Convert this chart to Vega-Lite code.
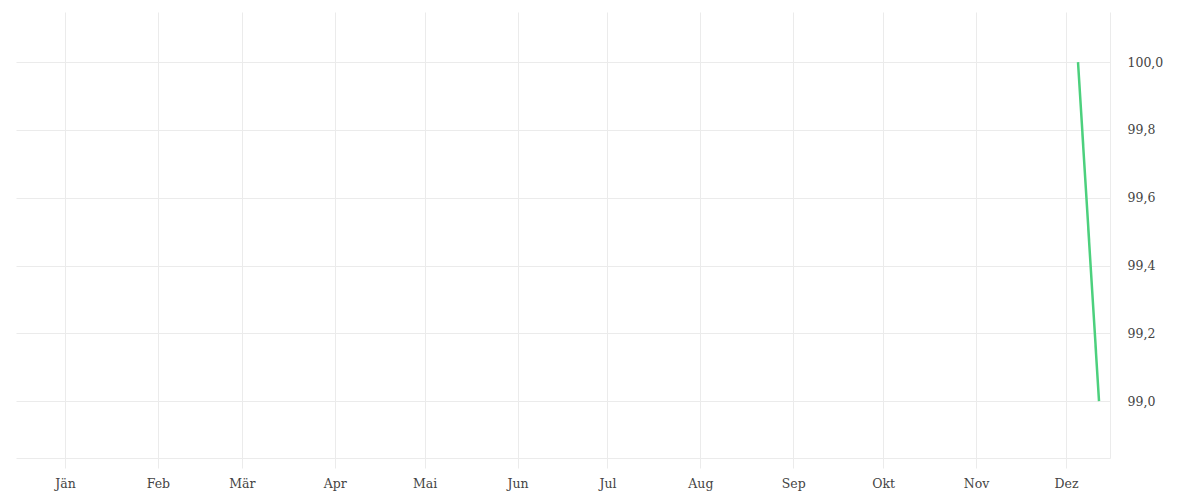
{
  "$schema": "https://vega.github.io/schema/vega-lite/v6.json",
  "width": 1094,
  "height": 446,
  "autosize": {"type": "none"},
  "padding": {"left": 16, "top": 12, "right": 90, "bottom": 42},
  "background": "white",
  "config": {
    "view": {"stroke": null},
    "font": "DejaVu Serif"
  },
  "data": {
    "values": [
      {"datum": "2023-12-05T00:00:00Z", "wert": 100.0},
      {"datum": "2023-12-12T00:00:00Z", "wert": 99.0}
    ]
  },
  "mark": {"type": "line", "color": "#4cd07d", "strokeWidth": 2.5},
  "encoding": {
    "x": {
      "field": "datum",
      "type": "temporal",
      "scale": {
        "type": "utc",
        "domain": [
          {"year": 2022, "month": 12, "date": 15, "hours": 16, "utc": true},
          {"year": 2023, "month": 12, "date": 15, "hours": 16, "utc": true}
        ],
        "nice": false
      },
      "axis": {
        "title": null,
        "values": [
          {"year": 2023, "month": 1, "date": 1, "utc": true},
          {"year": 2023, "month": 2, "date": 1, "utc": true},
          {"year": 2023, "month": 3, "date": 1, "utc": true},
          {"year": 2023, "month": 4, "date": 1, "utc": true},
          {"year": 2023, "month": 5, "date": 1, "utc": true},
          {"year": 2023, "month": 6, "date": 1, "utc": true},
          {"year": 2023, "month": 7, "date": 1, "utc": true},
          {"year": 2023, "month": 8, "date": 1, "utc": true},
          {"year": 2023, "month": 9, "date": 1, "utc": true},
          {"year": 2023, "month": 10, "date": 1, "utc": true},
          {"year": 2023, "month": 11, "date": 1, "utc": true},
          {"year": 2023, "month": 12, "date": 1, "utc": true}
        ],
        "labelExpr": "['Jän','Feb','Mär','Apr','Mai','Jun','Jul','Aug','Sep','Okt','Nov','Dez'][utcmonth(datum.value)]",
        "grid": true,
        "gridColor": "#ebebeb",
        "gridWidth": 1,
        "domain": true,
        "domainColor": "#ebebeb",
        "ticks": true,
        "tickColor": "#ebebeb",
        "tickSize": 10,
        "labelPadding": 9,
        "labelFontSize": 12.5,
        "labelColor": "#444444",
        "labelFont": "DejaVu Serif"
      }
    },
    "y": {
      "field": "wert",
      "type": "quantitative",
      "scale": {"domain": [98.832, 100.148], "nice": false, "zero": false},
      "axis": {
        "title": null,
        "orient": "right",
        "values": [99.0, 99.2, 99.4, 99.6, 99.8, 100.0],
        "labelExpr": "replace(format(datum.value, '.1f'), '.', ',')",
        "grid": true,
        "gridColor": "#ebebeb",
        "gridWidth": 1,
        "domain": true,
        "domainColor": "#ebebeb",
        "ticks": false,
        "labelPadding": 17,
        "labelFontSize": 12.5,
        "labelColor": "#444444",
        "labelFont": "DejaVu Serif"
      }
    }
  }
}
